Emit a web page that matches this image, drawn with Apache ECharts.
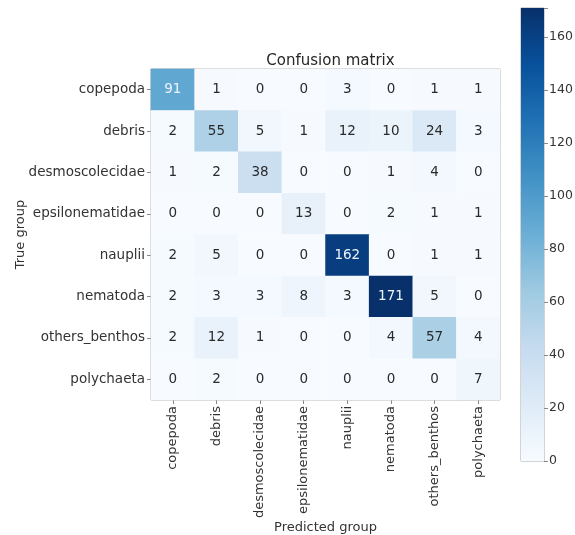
<!DOCTYPE html>
<html>
<head>
<meta charset="utf-8">
<script src="https://cdn.jsdelivr.net/npm/echarts@6/dist/echarts.min.js"></script>
<style>
  html, body { margin: 0; padding: 0; background: #fff; }
  #chart { width: 575px; height: 535px; }
</style>
</head>
<body>
<div id="chart"></div>
<script>
// Class names shared by both axes
const groups = ['copepoda', 'debris', 'desmoscolecidae', 'epsilonematidae',
                'nauplii', 'nematoda', 'others_benthos', 'polychaeta'];

// Counts per true group (rows), in predicted-group order (columns)
const rowCopepoda        = [91, 1, 0, 0, 3, 0, 1, 1];
const rowDebris          = [2, 55, 5, 1, 12, 10, 24, 3];
const rowDesmoscolecidae = [1, 2, 38, 0, 0, 1, 4, 0];
const rowEpsilonematidae = [0, 0, 0, 13, 0, 2, 1, 1];
const rowNauplii         = [2, 5, 0, 0, 162, 0, 1, 1];
const rowNematoda        = [2, 3, 3, 8, 3, 171, 5, 0];
const rowOthersBenthos   = [2, 12, 1, 0, 0, 4, 57, 4];
const rowPolychaeta      = [0, 2, 0, 0, 0, 0, 0, 7];

// Colour bar tick labels
const colorbarTicks = [0, 20, 40, 60, 80, 100, 120, 140, 160];

const rows = [rowCopepoda, rowDebris, rowDesmoscolecidae, rowEpsilonematidae,
              rowNauplii, rowNematoda, rowOthersBenthos, rowPolychaeta];

const vmax = Math.max(...rows.flat());
const thresh = vmax / 2;

// Blues colour ramp
const blues = ['#f7fbff', '#deebf7', '#c6dbef', '#9ecae1', '#6baed6',
               '#4292c6', '#2171b5', '#08519c', '#08306b'];

const cells = [];
rows.forEach((row, r) => {
  row.forEach((v, c) => {
    cells.push({
      value: [c, r, v],
      label: { color: v > thresh ? '#eef4fb' : '#2a2a2a' }
    });
  });
});

const font = 'DejaVu Sans';
const chart = echarts.init(document.getElementById('chart'), null, { renderer: 'canvas' });

chart.setOption({
  backgroundColor: '#ffffff',
  animation: false,
  textStyle: { fontFamily: font },
  title: {
    text: 'Confusion matrix',
    left: 325.5,
    textAlign: 'center',
    top: 49,
    textStyle: { fontFamily: font, fontSize: 15, fontWeight: 'normal', color: '#262626' }
  },
  grid: [
    { left: 151, top: 69, width: 349, height: 331, show: true, outerBoundsMode: 'none',
      borderColor: '#a8a8a8', borderWidth: 1, backgroundColor: 'transparent' },
    { left: 521, top: 8, width: 23, height: 453, show: true, outerBoundsMode: 'none',
      borderColor: '#a8a8a8', borderWidth: 1, backgroundColor: 'transparent' }
  ],
  xAxis: [
    {
      gridIndex: 0,
      type: 'category',
      data: groups,
      position: 'bottom',
      name: 'Predicted group',
      nameLocation: 'middle',
      nameGap: 121,
      nameMoveOverlap: false,
      nameTextStyle: { fontFamily: font, fontSize: 13, color: '#333' },
      axisLine: { show: false },
      axisTick: { show: true, alignWithLabel: true, length: 4, lineStyle: { color: '#888' } },
      axisLabel: { rotate: 90, fontFamily: font, fontSize: 13, color: '#333', margin: 6, interval: 0 },
      splitLine: { show: false }
    },
    {
      gridIndex: 1,
      type: 'category',
      data: [''],
      show: false
    }
  ],
  yAxis: [
    {
      gridIndex: 0,
      type: 'category',
      data: groups,
      inverse: true,
      name: 'True group',
      nameLocation: 'middle',
      nameGap: 124,
      nameMoveOverlap: false,
      nameTextStyle: { fontFamily: font, fontSize: 13, color: '#333' },
      axisLine: { show: false },
      axisTick: { show: true, alignWithLabel: true, length: 4, lineStyle: { color: '#888' } },
      axisLabel: { fontFamily: font, fontSize: 13.5, color: '#333', margin: 6, interval: 0 },
      splitLine: { show: false }
    },
    {
      gridIndex: 1,
      type: 'value',
      position: 'right',
      min: 0,
      max: vmax,
      interval: 20,
      axisLine: { show: false },
      axisTick: { show: true, length: 4, lineStyle: { color: '#888' } },
      axisLabel: {
        fontFamily: font, fontSize: 12.5, color: '#333', margin: 5,
        formatter: v => colorbarTicks.includes(v) ? String(v) : ''
      },
      splitLine: { show: false }
    }
  ],
  visualMap: {
    show: false,
    type: 'continuous',
    min: 0,
    max: vmax,
    seriesIndex: 0,
    inRange: { color: blues }
  },
  series: [
    {
      type: 'heatmap',
      xAxisIndex: 0,
      yAxisIndex: 0,
      data: cells,
      label: { show: true, fontFamily: font, fontSize: 13.5 },
      itemStyle: { borderWidth: 0 },
      emphasis: { disabled: true }
    },
    {
      // colour bar
      type: 'bar',
      xAxisIndex: 1,
      yAxisIndex: 1,
      data: [vmax],
      barWidth: '100%',
      silent: true,
      itemStyle: {
        color: new echarts.graphic.LinearGradient(0, 1, 0, 0,
          blues.map((c, i) => ({ offset: i / (blues.length - 1), color: c })))
      }
    }
  ]
});
</script>
</body>
</html>
